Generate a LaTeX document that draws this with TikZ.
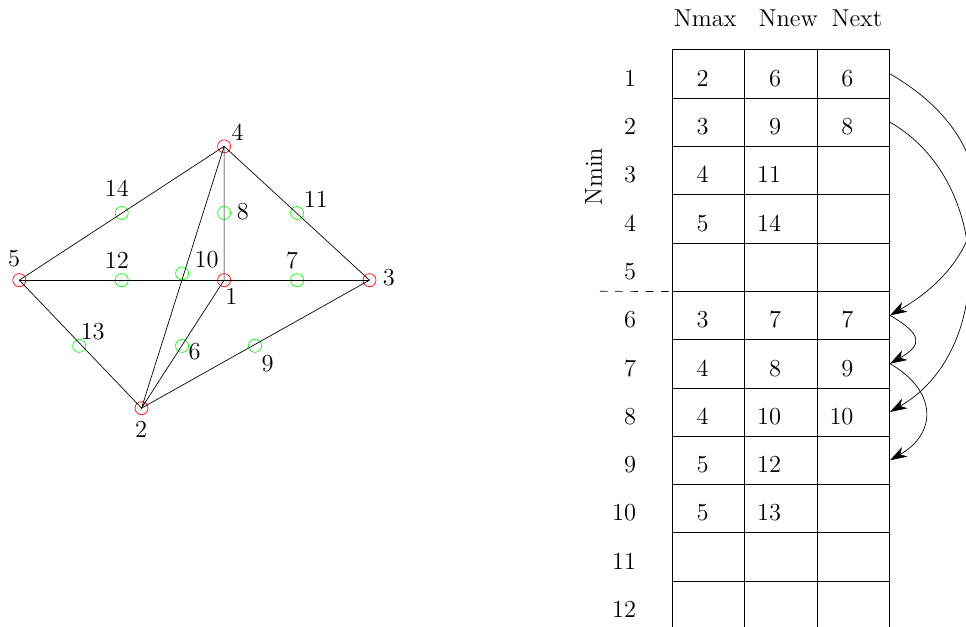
\documentclass[tikz,border=0pt]{standalone}
\usetikzlibrary{arrows.meta}
\begin{document}
\begin{tikzpicture}[>={Stealth[length=10pt,width=6.5pt,inset=3pt]}, font=\Large,
  vert/.style={draw=red, circle, minimum size=0.27cm, inner sep=0pt},
  mid/.style={draw=green, circle, minimum size=0.27cm, inner sep=0pt},
  cell/.style={draw, minimum width=1.5cm, minimum height=1cm, inner sep=0pt, text height=0.512cm, text depth=0pt},
  rowlab/.style={minimum width=1.5cm, minimum height=1cm, inner sep=0pt, text height=0.512cm, text depth=0pt}]
\useasboundingbox (0,0) rectangle (20,12.98);
% mesh: corner nodes
\node[vert] (v1) at (4.64,7.18) {};
\node[vert] (v2) at (2.93,4.53) {};
\node[vert] (v3) at (7.65,7.18) {};
\node[vert] (v4) at (4.64,9.95) {};
\node[vert] (v5) at (0.40,7.18) {};
% mid-side nodes
\node[mid] (v6) at (3.77,5.82) {};
\node[mid] (v7) at (6.15,7.18) {};
\node[mid] (v8) at (4.64,8.57) {};
\node[mid] (v9) at (5.28,5.82) {};
\node[mid] (v10) at (3.77,7.32) {};
\node[mid] (v11) at (6.15,8.57) {};
\node[mid] (v12) at (2.52,7.18) {};
\node[mid] (v13) at (1.64,5.82) {};
\node[mid] (v14) at (2.52,8.57) {};
\draw (v5.center) -- (v3.center);
\draw (v5.center) -- (v4.center) -- (v3.center) -- (v2.center) -- (v5.center);
\draw (v4.center) -- (v1.center) -- (v2.center) -- (v4.center);
% numbers
\node (l1) at (4.79,6.85) {1};
\node (l2) at (2.92,4.10) {2};
\node (l3) at (8.05,7.23) {3};
\node (l4) at (4.92,10.24) {4};
\node (l5) at (0.29,7.62) {5};
\node (l6) at (4.03,5.70) {6};
\node (l7) at (6.05,7.59) {7};
\node (l8) at (5.03,8.59) {8};
\node (l9) at (5.54,5.46) {9};
\node (l10) at (4.28,7.60) {10};
\node (l11) at (6.54,8.85) {11};
\node (l12) at (2.42,7.59) {12};
\node (l13) at (1.92,6.11) {13};
\node (l14) at (2.42,9.09) {14};
% table
\node[anchor=base] (hmax) at (14.60,12.43) {Nmax};
\node[anchor=base] (hnew) at (16.32,12.43) {Nnew};
\node[anchor=base] (hnext) at (17.74,12.43) {Next};
\node[rotate=90] (hmin) at (12.29,9.32) {Nmin};
\node[rowlab] (r1) at (13.17,11.45) {\llap{1}};   \node[cell] (max1) at (14.67,11.45) {\llap{2}};  \node[cell] (new1) at (16.17,11.45) {\llap{6}};  \node[cell] (nxt1) at (17.67,11.45) {\llap{6}};
\node[rowlab] (r2) at (13.17,10.45) {\llap{2}};   \node[cell] (max2) at (14.67,10.45) {\llap{3}};  \node[cell] (new2) at (16.17,10.45) {\llap{9}};  \node[cell] (nxt2) at (17.67,10.45) {\llap{8}};
\node[rowlab] (r3) at (13.17,9.45) {\llap{3}};    \node[cell] (max3) at (14.67,9.45) {\llap{4}};   \node[cell] (new3) at (16.17,9.45) {\llap{11}};  \node[cell] (nxt3) at (17.67,9.45) {};
\node[rowlab] (r4) at (13.17,8.45) {\llap{4}};    \node[cell] (max4) at (14.67,8.45) {\llap{5}};   \node[cell] (new4) at (16.17,8.45) {\llap{14}};  \node[cell] (nxt4) at (17.67,8.45) {};
\node[rowlab] (r5) at (13.17,7.45) {\llap{5}};    \node[cell] (max5) at (14.67,7.45) {};          \node[cell] (new5) at (16.17,7.45) {};          \node[cell] (nxt5) at (17.67,7.45) {};
\node[rowlab] (r6) at (13.17,6.45) {\llap{6}};    \node[cell] (max6) at (14.67,6.45) {\llap{3}};   \node[cell] (new6) at (16.17,6.45) {\llap{7}};   \node[cell] (nxt6) at (17.67,6.45) {\llap{7}};
\node[rowlab] (r7) at (13.17,5.45) {\llap{7}};    \node[cell] (max7) at (14.67,5.45) {\llap{4}};   \node[cell] (new7) at (16.17,5.45) {\llap{8}};   \node[cell] (nxt7) at (17.67,5.45) {\llap{9}};
\node[rowlab] (r8) at (13.17,4.45) {\llap{8}};    \node[cell] (max8) at (14.67,4.45) {\llap{4}};   \node[cell] (new8) at (16.17,4.45) {\llap{10}};  \node[cell] (nxt8) at (17.67,4.45) {\llap{10}};
\node[rowlab] (r9) at (13.17,3.45) {\llap{9}};    \node[cell] (max9) at (14.67,3.45) {\llap{5}};   \node[cell] (new9) at (16.17,3.45) {\llap{12}};  \node[cell] (nxt9) at (17.67,3.45) {};
\node[rowlab] (r10) at (13.17,2.45) {\llap{10}};  \node[cell] (max10) at (14.67,2.45) {\llap{5}};  \node[cell] (new10) at (16.17,2.45) {\llap{13}}; \node[cell] (nxt10) at (17.67,2.45) {};
\node[rowlab] (r11) at (13.17,1.45) {\llap{11}};  \node[cell] (max11) at (14.67,1.45) {};         \node[cell] (new11) at (16.17,1.45) {};         \node[cell] (nxt11) at (17.67,1.45) {};
\node[rowlab] (r12) at (13.17,0.45) {\llap{12}};  \node[cell] (max12) at (14.67,0.45) {};         \node[cell] (new12) at (16.17,0.45) {};         \node[cell] (nxt12) at (17.67,0.45) {};
\coordinate (dash) at (12.42,6.95);
\draw[dash pattern=on 4.5pt off 4.5pt] (dash) -- (max5.south west);
% links
\draw[->] (nxt1.east) to[out=-30,in=30,looseness=1.39] (nxt6.east);
\draw[->] (nxt2.east) to[out=-30,in=30,looseness=1.06] (nxt8.east);
\draw[->] (nxt6.east) to[out=-30,in=30,looseness=2] (nxt7.east);
\draw[->] (nxt7.east) to[out=-30,in=30,looseness=1.45] (nxt9.east);
\end{tikzpicture}
\end{document}
